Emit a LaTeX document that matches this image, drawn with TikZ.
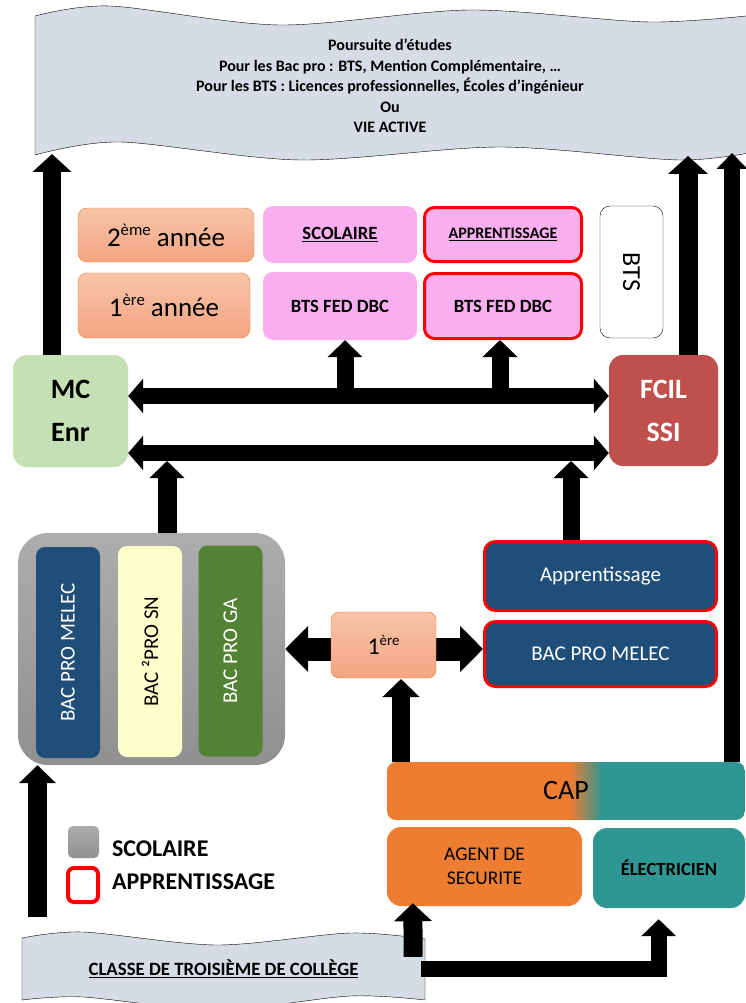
\documentclass[tikz,border=0pt]{standalone}
\usepackage{fontspec}
\setmainfont{Carlito}
\usetikzlibrary{arrows.meta}

\definecolor{bandeau}{HTML}{D6DCE5}
\definecolor{saumonH}{HTML}{F7C4A8}
\definecolor{saumonB}{HTML}{F4A582}
\definecolor{orangeF}{HTML}{ED7D31}
\definecolor{rose}{HTML}{F9AEF0}
\definecolor{vertMC}{HTML}{C5E0B4}
\definecolor{rougeF}{HTML}{C0504D}
\definecolor{bleuB}{HTML}{1F4E79}
\definecolor{jaune}{HTML}{FFFFCC}
\definecolor{vertGA}{HTML}{548235}
\definecolor{sarcelle}{HTML}{2E9693}
\definecolor{grisH}{HTML}{ADADAD}
\definecolor{grisB}{HTML}{909090}

\newcommand{\police}[2]{\fontsize{#1}{#2}\selectfont}
\newcommand{\expo}[1]{\raisebox{0.4em}{\scalebox{0.62}{#1}}}

\begin{document}
\begin{tikzpicture}[x=1pt,y=-1pt,
  annee/.style={rounded corners=9pt, draw=orangeF, top color=saumonH, bottom color=saumonB, font=\police{27}{32}},
  rosebox/.style={rounded corners=10pt, fill=rose, font=\police{18.7}{22}\bfseries},
  alt/.style={draw=red, line width=3pt},
  bleubox/.style={rounded corners=11pt, fill=bleuB, text=white, font=\police{21}{25}},
  barre/.style={rounded corners=9pt, rotate=90, font=\police{21}{25}, minimum width=211pt, minimum height=64pt},
  fleche/.style n args={3}{line width=#1, -{Triangle[length=#2,width=#3]}},
  fleches/.style n args={3}{line width=#1, {Triangle[length=#2,width=#3]}-{Triangle[length=#2,width=#3]}},
]
\useasboundingbox (0,0) rectangle (745,1003);
\fill[white] (0,0) rectangle (745,1003);

% bandeau du haut
\draw[fill=bandeau, thin] plot[smooth] coordinates {(35,16) (110,6) (280,25) (470,10) (650,22) (765,14)}
  -- plot[smooth] coordinates {(765,150) (680,160) (500,147) (300,160) (120,142) (35,155)} -- cycle;
\node[font=\police{16}{20.5}\bfseries, align=center] (etudes) at (390,86)
  {Poursuite d’études\\Pour les Bac pro : BTS, Mention Complémentaire, …\\Pour les BTS : Licences professionnelles, Écoles d’ingénieur\\Ou\\VIE ACTIVE};

% BTS
\node[annee, minimum width=176pt, minimum height=54pt] (an2) at (166,235) {2\expo{ème} année};
\node[annee, minimum width=172pt, minimum height=65pt] (an1) at (164,305.5) {1\expo{ère} année};
\node[rosebox, minimum width=154pt, minimum height=57pt] (scol) at (340,234.5) {\underline{SCOLAIRE}};
\node[rosebox, minimum width=154pt, minimum height=68pt] (btsS) at (340,306) {BTS FED DBC};
\node[rosebox, alt, minimum width=157pt, minimum height=54pt] (app) at (503,234.5) {\police{16}{19}\underline{APPRENTISSAGE}};
\node[rosebox, alt, minimum width=157pt, minimum height=65pt] (btsA) at (503,306) {BTS FED DBC};
\node[draw, rounded corners=10pt, fill=white, rotate=-90, minimum width=132pt, minimum height=63pt, font=\police{26}{30}] (bts) at (631.5,272) {BTS};

% MC et FCIL
\node[rounded corners=14pt, fill=vertMC, minimum width=115pt, minimum height=112pt, align=center, font=\police{28}{43}\bfseries] (mc) at (70.5,411) {MC\\Enr};
\node[rounded corners=14pt, fill=rougeF, text=white, minimum width=109pt, minimum height=111pt, align=center, font=\police{28}{43}\bfseries] (fcil) at (663.5,410.5) {FCIL\\SSI};

% bac pro
\node[rounded corners=30pt, top color=grisH, bottom color=grisB, minimum width=267pt, minimum height=232pt] (bac) at (151.5,649) {};
\node[barre, fill=bleuB, text=white] (melec) at (68,652.5) {BAC PRO MELEC};
\node[barre, fill=jaune] (sn) at (150,651.5) {BAC ²PRO SN};
\node[barre, fill=vertGA, text=white] (ga) at (230.5,651) {BAC PRO GA};

\node[bleubox, alt, minimum width=232pt, minimum height=69pt] (appbox) at (600.5,576) {Apprentissage};
\node[bleubox, alt, minimum width=232pt, minimum height=65pt] (melecA) at (600.5,654) {BAC PRO MELEC};
\draw[fleches={23pt}{23pt}{45pt}] (bac.east) -- (bac.east -| melecA.west);
\node[annee, rounded corners=8pt, minimum width=105pt, minimum height=66pt, font=\police{24}{28}] (prem) at (383.5,645) {1\expo{ère}};

% CAP
\node[rounded corners=9pt, minimum width=358pt, minimum height=58pt, font=\police{28}{32}, path picture={
    \fill[sharp corners, orangeF] (path picture bounding box.north west) rectangle ([xshift=184pt]path picture bounding box.south west);
    \shade[sharp corners, left color=orangeF, right color=sarcelle] ([xshift=183pt]path picture bounding box.north west) rectangle ([xshift=215pt]path picture bounding box.south west);
    \fill[sharp corners, sarcelle] ([xshift=214pt]path picture bounding box.north west) rectangle (path picture bounding box.south east);
  }] (cap) at (566,791) {CAP};
\node[rounded corners=14pt, fill=orangeF, minimum width=195pt, minimum height=79pt, align=center, font=\police{19.4}{24}] (agent) at (484.5,866.5) {AGENT DE\\SECURITE};
\node[rounded corners=14pt, fill=sarcelle, minimum width=152pt, minimum height=80pt, font=\police{18.6}{22}\bfseries] (elec) at (669,868) {ÉLECTRICIEN};

% legende
\node[rounded corners=5pt, top color=grisH, bottom color=grisB, minimum width=31pt, minimum height=32pt] (legS) at (83.5,842) {};
\node[rounded corners=6pt, draw=red, line width=4pt, minimum width=30pt, minimum height=34pt] (legA) at (83,885) {};
\node[anchor=west, font=\police{24}{27}\bfseries] (txtS) at (108.5,849) {SCOLAIRE};
\node[anchor=west, font=\police{24}{27}\bfseries] (txtA) at (108.5,882) {APPRENTISSAGE};

% bandeau du bas
\draw[fill=bandeau, thin] plot[smooth] coordinates {(22,938) (83,932) (217,945) (350,933) (425,939)}
  -- plot[smooth] coordinates {(425,1000) (350,996) (217,1010) (83,997) (22,1000)} -- cycle;
\node[font=\police{18.8}{22}\bfseries, minimum width=403pt, minimum height=62pt] (college) at (223.5,969) {\underline{CLASSE DE TROISIÈME DE COLLÈGE}};

% fleches
\coordinate (hautG) at (52,154);
\coordinate (hautD) at (688,156);
\coordinate (hautDD) at (732,153);
\coordinate (ligneH) at (0,396);
\coordinate (ligneB) at (0,453);
\coordinate (depart1) at (345,396);
\coordinate (depart2) at (500,396);
\coordinate (arrivee1) at (167,461);
\coordinate (arrivee2) at (571,461);
\coordinate (arrivee3) at (401,679);
\coordinate (depart4) at (37.5,917);

\draw[fleche={18pt}{18pt}{38pt}] (mc.north -| hautG) -- (hautG);
\draw[fleche={19pt}{18pt}{39pt}] (fcil.north -| hautD) -- (hautD);
\draw[fleche={16pt}{16pt}{30pt}] (cap.north -| hautDD) -- (hautDD);
\draw[fleches={16pt}{15pt}{34pt}] (mc.east |- ligneH) -- (fcil.west |- ligneH);
\draw[fleches={16pt}{15pt}{34pt}] (mc.east |- ligneB) -- (fcil.west |- ligneB);
\draw[fleche={17pt}{17pt}{34pt}] (depart1) -- (depart1 |- btsS.south);
\draw[fleche={17pt}{17pt}{34pt}] (depart2) -- (depart2 |- btsA.south);
\draw[fleche={19pt}{17pt}{34pt}] (bac.north -| arrivee1) -- (arrivee1);
\draw[fleche={17pt}{17pt}{34pt}] (appbox.north -| arrivee2) -- (arrivee2);
\draw[fleche={18pt}{18pt}{36pt}] (cap.north -| arrivee3) -- (arrivee3);
\draw[fleche={19pt}{18pt}{36pt}] (depart4) -- (depart4 |- bac.south);
\draw[fleche={19pt}{18pt}{37pt}] ([xshift=-12pt,yshift=-19pt]college.north east) -- ([xshift=26pt,yshift=3pt]agent.south west);
\draw[fleche={16pt}{17pt}{34pt}] ([xshift=-4pt]college.east) -| ([xshift=-10.3pt,yshift=-11pt]elec.south);
\end{tikzpicture}
\end{document}
